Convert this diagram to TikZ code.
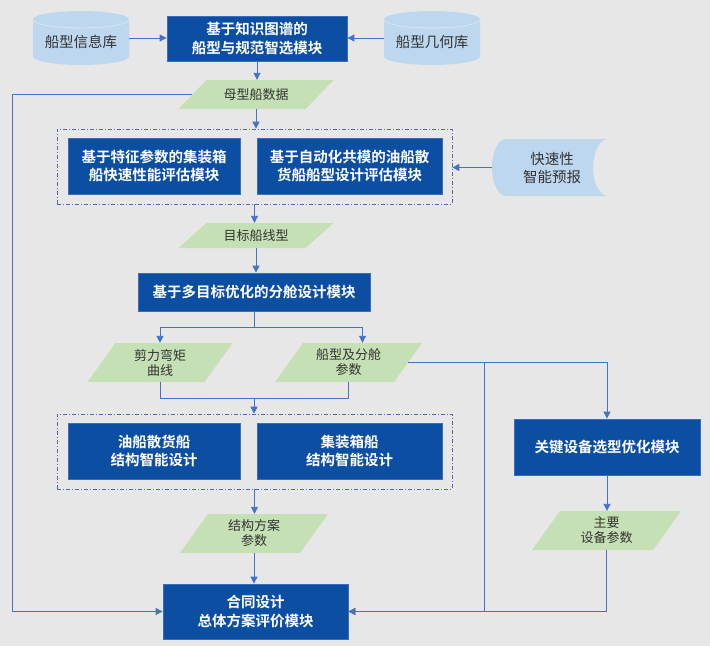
\documentclass[tikz,border=0pt]{standalone}
\usepackage{fontspec}
\setmainfont{Noto Sans CJK SC}[BoldFont={Noto Sans CJK SC Bold}]
\usetikzlibrary{arrows.meta,calc}
\definecolor{bgc}{HTML}{E7E7E7}
\definecolor{boxc}{HTML}{0B4EA2}
\definecolor{boxe}{HTML}{3B6CBE}
\definecolor{cylc}{HTML}{BDD7EE}
\definecolor{cyle}{HTML}{D3E4F4}
\definecolor{parac}{HTML}{C5E0B4}
\definecolor{linec}{HTML}{4472C4}
\definecolor{grpc}{HTML}{5468B0}
\definecolor{txtc}{HTML}{333333}
\tikzset{
  bluebox/.style={rectangle, fill=boxc, draw=boxe, line width=0.8pt, text=white, align=center,
    font=\bfseries\fontsize{14.5}{18.5}\selectfont, inner sep=0pt},
  grp/.style={rectangle, draw=grpc, line width=0.7pt, dash pattern=on 4pt off 2pt on 1pt off 2pt, inner sep=0pt},
  paratext/.style={rectangle, inner sep=0pt, align=center, text=txtc, font=\fontsize{13}{15}\selectfont},
  lighttext/.style={rectangle, inner sep=0pt, align=center, text=txtc, font=\fontsize{14.5}{18}\selectfont},
  line/.style={draw=linec, line width=0.9pt},
  conn/.style={line, -{Triangle[length=7pt,width=7pt]}},
}
% parallelogram: name, cx, cy, total width, height, text
\newcommand\paranode[6]{%
  \fill[parac] ({#2-#4/2},{#3+#5/2}) -- ({#2+#4/2-28},{#3+#5/2}) -- ({#2+#4/2},{#3-#5/2}) -- ({#2-#4/2+28},{#3-#5/2}) -- cycle;
  \node[paratext, minimum width={#4-28}, minimum height=#5] (#1) at (#2,#3) {#6};
}
% cylinder: name, cx, cy, text
\newcommand\cylnode[4]{%
  \fill[cylc] ({#2-48},{#3-18.5}) -- ({#2-48},{#3+18.5})
     arc[start angle=180, end angle=0, x radius=48, y radius=8.5]
     -- ({#2+48},{#3-18.5})
     arc[start angle=0, end angle=-180, x radius=48, y radius=8.5] -- cycle;
  \draw[cyle, line width=0.8pt] ({#2-48},{#3-18.5}) arc[start angle=180, end angle=0, x radius=48, y radius=8.5];
  \node[rectangle, inner sep=0pt, minimum width=96, minimum height=54] (#1) at (#2,#3) {};
  \node[lighttext] (#1-t) at (#2,{#3+4}) {#4};
}
\begin{document}
\begin{tikzpicture}[x=1pt,y=-1pt]
\fill[bgc] (0,0) rectangle (710,646);
\useasboundingbox (0,0) rectangle (710,646);

% top row
\cylnode{cylL}{81}{38}{船型信息库}
\cylnode{cylR}{432}{38}{船型几何库}
\node[bluebox, minimum width=180, minimum height=45] (T) at (257,38.5) {基于知识图谱的\\船型与规范智选模块};

\paranode{P1}{256}{94.5}{155}{29}{母型船数据}

% group 1
\node[grp, minimum width=395, minimum height=75] (G1) at (254.5,166.5) {};
\node[bluebox, minimum width=172, minimum height=56] (A) at (154,166) {基于特征参数的集装箱\\船快速性能评估模块};
\node[bluebox, minimum width=185, minimum height=56] (B) at (349.5,166) {基于自动化共模的油船散\\货船船型设计评估模块};

% quick forecast (stored data shape)
\fill[cylc] (506,139) -- (608,139)
   arc[start angle=270, end angle=90, x radius=15, y radius=28.5]
   -- (506,196)
   arc[start angle=90, end angle=270, x radius=14, y radius=28.5] -- cycle;
\node[lighttext, minimum width=116, minimum height=57] (Q) at (550,167.5) {};
\node[lighttext] (Q-t) at (552,167.5) {快速性\\智能预报};

\paranode{P2}{256}{235.5}{155}{25}{目标船线型}

\node[bluebox, minimum width=232, minimum height=38] (M) at (254,292) {基于多目标优化的分舱设计模块};

\paranode{P3}{160}{362.5}{145}{39}{剪力弯矩\\曲线}
\paranode{P4}{348.5}{362.5}{147}{39}{船型及分舱\\参数}

% group 2
\node[grp, minimum width=395, minimum height=75] (G2) at (254.5,451.5) {};
\node[bluebox, minimum width=172, minimum height=56] (C) at (154,451) {油船散货船\\结构智能设计};
\node[bluebox, minimum width=185, minimum height=56] (D) at (349.5,451) {集装箱船\\结构智能设计};

\node[bluebox, minimum width=186, minimum height=56] (K) at (607,447) {关键设备选型优化模块};

\paranode{P5}{254}{533.5}{148}{39}{结构方案\\参数}
\paranode{P6}{606.5}{530.5}{149}{39}{主要\\设备参数}

\node[bluebox, minimum width=185, minimum height=55] (H) at (255.5,611.5) {合同设计\\总体方案评价模块};

% helper coordinates
\coordinate (fb) at (12,0);
\coordinate (br) at (0,327);
\coordinate (jn) at (0,398);
\coordinate (vx) at (484,0);

% connectors
\draw[conn] (cylL.east) -- (cylL.east -| T.west);
\draw[conn] (cylR.west) -- (cylR.west -| T.east);
\draw[conn] (T.south) -- (T.south |- P1.north);
\draw[conn] (P1.south) -- (P1.south |- G1.north);
\draw[conn] (Q.west) -- (Q.west -| G1.east);
\draw[conn] (G1.south) -- (G1.south |- P2.north);
\draw[conn] (P2.south) -- (P2.south |- M.north);

\draw[line] (M.south) -- (M.south |- br);
\draw[line] (P3.north |- br) -- ([xshift=14pt]P4.north |- br);
\draw[conn] (P3.north |- br) -- (P3.north);
\draw[conn] ([xshift=14pt]P4.north |- br) -- ([xshift=14pt]P4.north);

\draw[line] (P3.south) -- (P3.south |- jn) -- (P4.south |- jn) -- (P4.south);
\draw[conn] (M.south |- jn) -- (M.south |- G2.north);

\draw[conn] (G2.south) -- (G2.south |- P5.north);
\draw[conn] (P5.south) -- (P5.south |- H.north);

\draw[conn] (P1.west) -- (P1.west -| fb) |- (H.west);

\draw[conn] (P4.east) -| (K.north);
\draw[conn] (P4.east -| vx) |- (H.east);
\draw[conn] (K.south) -- (K.south |- P6.north);
\draw[conn] (P6.south) |- (H.east);
\end{tikzpicture}
\end{document}
